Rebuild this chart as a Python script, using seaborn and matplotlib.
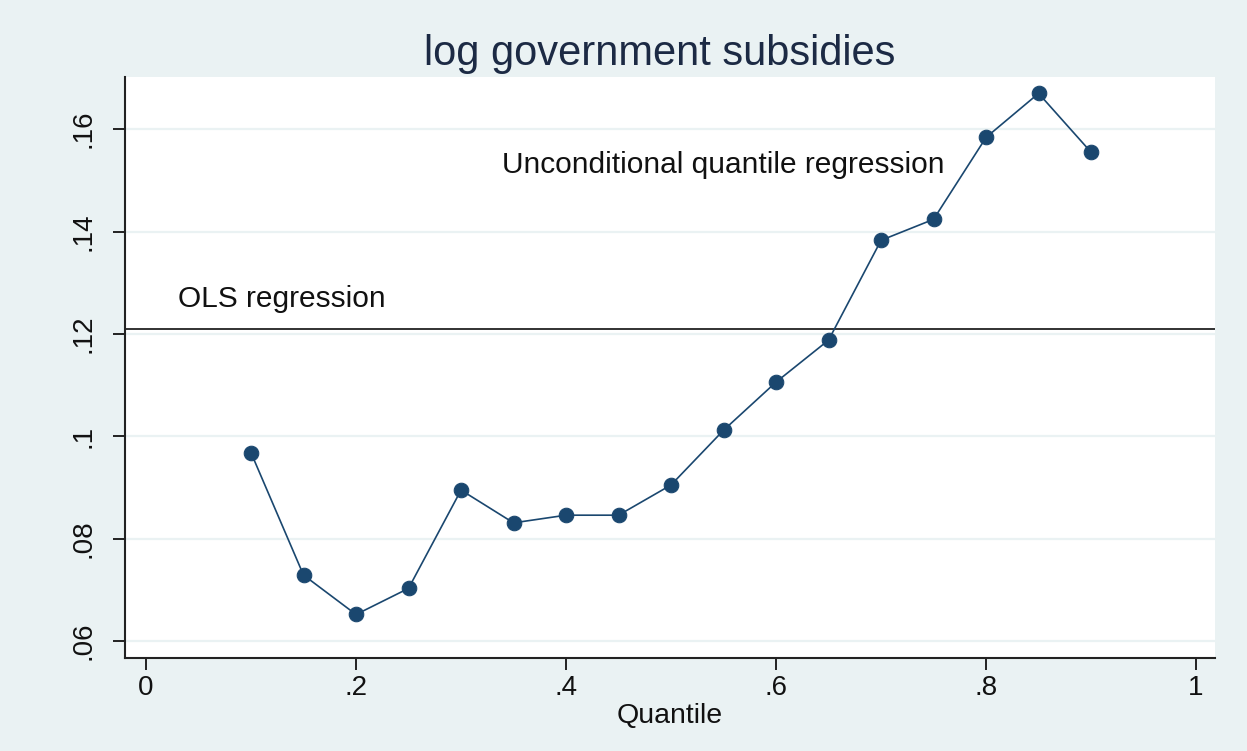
import matplotlib
matplotlib.use("Agg")
import matplotlib.pyplot as plt
import seaborn as sns
import pandas as pd

# Unconditional quantile regression coefficients by quantile
quantiles = [0.10, 0.15, 0.20, 0.25, 0.30, 0.35, 0.40, 0.45, 0.50,
             0.55, 0.60, 0.65, 0.70, 0.75, 0.80, 0.85, 0.90]
coefs = [0.0968, 0.0729, 0.0652, 0.0703, 0.0895, 0.0831, 0.0846, 0.0846, 0.0905,
         0.1012, 0.1106, 0.1188, 0.1383, 0.1424, 0.1584, 0.1670, 0.1555]
ols_coef = 0.1210

x_ticks = [0, 0.2, 0.4, 0.6, 0.8, 1.0]
x_ticklabels = ["0", ".2", ".4", ".6", ".8", "1"]
y_ticks = [0.06, 0.08, 0.10, 0.12, 0.14, 0.16]
y_ticklabels = [".06", ".08", ".1", ".12", ".14", ".16"]

df = pd.DataFrame({"Quantile": quantiles, "coef": coefs})

bg = "#EAF2F3"
navy = "#1a476f"

sns.set_theme(style="white")
plt.rcParams["font.family"] = ["Liberation Sans", "DejaVu Sans"]

fig = plt.figure(figsize=(12.47, 7.51), dpi=100, facecolor=bg)
ax = fig.add_axes([125 / 1247, 1 - 658 / 751, (1215 - 125) / 1247, (658 - 77) / 751])
ax.set_facecolor("white")

for yv in y_ticks:
    ax.axhline(yv, color=bg, lw=1.6, zorder=0)

ax.axhline(ols_coef, color="#222222", lw=1.3, zorder=1)

sns.lineplot(data=df, x="Quantile", y="coef", ax=ax, color=navy, lw=1.2,
             marker="o", markersize=10.5, markeredgecolor=navy,
             markerfacecolor=navy, zorder=3)

ax.text(0.030, 0.1268, "OLS regression", fontsize=21.5, color="#111111",
        ha="left", va="center")
ax.text(0.339, 0.1530, "Unconditional quantile regression", fontsize=21.5,
        color="#111111", ha="left", va="center")

ax.set_xlim(-0.02, 1.018)
ax.set_ylim(0.0567, 0.1702)
ax.set_xticks(x_ticks)
ax.set_xticklabels(x_ticklabels, fontsize=20, color="#111111")
ax.set_yticks(y_ticks)
ax.set_yticklabels(y_ticklabels, fontsize=20, color="#111111",
                   rotation=90, va="center")

ax.tick_params(axis="both", direction="out", length=8.5, width=1.4,
               color="#222222", left=True, bottom=True)
ax.tick_params(axis="x", pad=4)
ax.tick_params(axis="y", pad=12)

for side in ["top", "right"]:
    ax.spines[side].set_visible(False)
for side in ["left", "bottom"]:
    ax.spines[side].set_color("#222222")
    ax.spines[side].set_linewidth(1.5)

ax.set_xlabel("Quantile", fontsize=20.5, color="#111111", labelpad=1)
ax.set_ylabel("")
ax.grid(False)

fig.suptitle("log government subsidies", fontsize=30, color="#1c2a44",
             x=0.529, y=0.955, va="top")

fig.savefig("out.png", dpi=100, facecolor=bg)
